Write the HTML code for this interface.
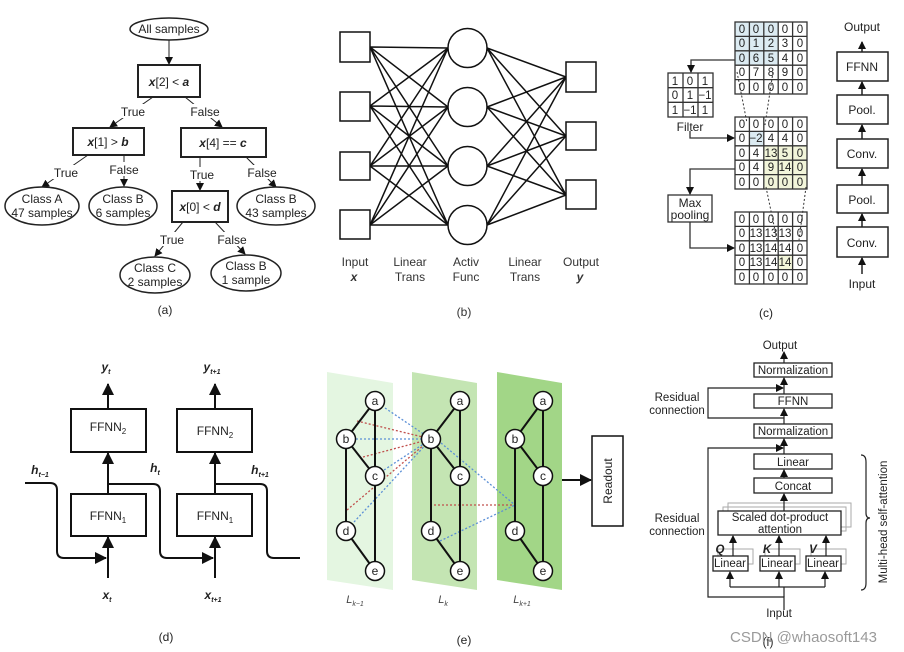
<!DOCTYPE html>
<html><head><meta charset="utf-8"><style>
html,body{margin:0;padding:0;background:#fff;}
svg{display:block;font-family:"Liberation Sans",Arial,sans-serif;}
</style></head><body>
<svg width="904" height="652" viewBox="0 0 904 652" xmlns="http://www.w3.org/2000/svg">
<defs>
<marker id="ah" markerWidth="8" markerHeight="8" refX="7" refY="4" orient="auto" markerUnits="userSpaceOnUse"><path d="M0,0 L8,4 L0,8 z" fill="#111"/></marker>
<marker id="ab" markerWidth="12" markerHeight="12" refX="11" refY="6" orient="auto" markerUnits="userSpaceOnUse"><path d="M0,0 L12,6 L0,12 z" fill="#111"/></marker>
</defs>

<!-- (a) -->
<g stroke="#222" fill="none" stroke-width="1">
<ellipse cx="169" cy="29" rx="39" ry="11" stroke-width="1.5"/>
<line x1="169" y1="40" x2="169" y2="64" marker-end="url(#ah)"/>
<rect x="138" y="65" width="62" height="32" stroke-width="2"/>
<line x1="153" y1="97" x2="110" y2="127" marker-end="url(#ah)"/>
<line x1="185" y1="97" x2="222" y2="127" marker-end="url(#ah)"/>
<rect x="73" y="128" width="71" height="27" stroke-width="2"/>
<rect x="181" y="128" width="85" height="29" stroke-width="2"/>
<line x1="88" y1="155" x2="42" y2="187" marker-end="url(#ah)"/>
<line x1="124" y1="155" x2="124" y2="186" marker-end="url(#ah)"/>
<line x1="200" y1="157" x2="200" y2="190" marker-end="url(#ah)"/>
<line x1="246" y1="157" x2="276" y2="187" marker-end="url(#ah)"/>
<ellipse cx="42" cy="206" rx="37" ry="19" stroke-width="1.5"/>
<ellipse cx="123" cy="206" rx="34" ry="19" stroke-width="1.5"/>
<ellipse cx="276" cy="206" rx="39" ry="19" stroke-width="1.5"/>
<rect x="172" y="191" width="56" height="31" stroke-width="2"/>
<line x1="183" y1="222" x2="155" y2="256" marker-end="url(#ah)"/>
<line x1="215" y1="222" x2="245" y2="254" marker-end="url(#ah)"/>
<ellipse cx="155" cy="275" rx="35" ry="18" stroke-width="1.5"/>
<ellipse cx="246" cy="273" rx="35" ry="18" stroke-width="1.5"/>
</g>
<g font-size="12" fill="#222" text-anchor="middle" stroke="none">
<text x="169" y="33">All samples</text>
<text x="169" y="86"><tspan font-weight="bold" font-style="italic">x</tspan>[2] &lt; <tspan font-weight="bold" font-style="italic">a</tspan></text>
<rect x="118" y="104" width="30" height="14" fill="#fff"/><text x="133" y="116">True</text>
<rect x="188" y="104" width="34" height="14" fill="#fff"/><text x="205" y="116">False</text>
<text x="108" y="146"><tspan font-weight="bold" font-style="italic">x</tspan>[1] &gt; <tspan font-weight="bold" font-style="italic">b</tspan></text>
<text x="223" y="147"><tspan font-weight="bold" font-style="italic">x</tspan>[4] == <tspan font-weight="bold" font-style="italic">c</tspan></text>
<rect x="52" y="165" width="28" height="14" fill="#fff"/><text x="66" y="177">True</text>
<rect x="107" y="162" width="34" height="14" fill="#fff"/><text x="124" y="174">False</text>
<rect x="188" y="167" width="28" height="14" fill="#fff"/><text x="202" y="179">True</text>
<rect x="245" y="165" width="34" height="14" fill="#fff"/><text x="262" y="177">False</text>
<text x="42" y="203">Class A</text><text x="42" y="217">47 samples</text>
<text x="123" y="203">Class B</text><text x="123" y="217">6 samples</text>
<text x="276" y="203">Class B</text><text x="276" y="217">43 samples</text>
<text x="200" y="211"><tspan font-weight="bold" font-style="italic">x</tspan>[0] &lt; <tspan font-weight="bold" font-style="italic">d</tspan></text>
<rect x="158" y="232" width="28" height="14" fill="#fff"/><text x="172" y="244">True</text>
<rect x="215" y="232" width="34" height="14" fill="#fff"/><text x="232" y="244">False</text>
<text x="155" y="272">Class C</text><text x="155" y="286">2 samples</text>
<text x="246" y="270">Class B</text><text x="246" y="284">1 sample</text>
<text x="165" y="314">(a)</text>
</g>

<!-- (b) -->
<g stroke="#111" stroke-width="1.5" fill="none">
<path d="M370,47L448,48M370,47L448,107M370,47L448,166M370,47L448,225
M370,106L448,48M370,106L448,107M370,106L448,166M370,106L448,225
M370,166L448,48M370,166L448,107M370,166L448,166M370,166L448,225
M370,225L448,48M370,225L448,107M370,225L448,166M370,225L448,225
M487,48L566,77M487,48L566,136M487,48L566,195
M487,107L566,77M487,107L566,136M487,107L566,195
M487,166L566,77M487,166L566,136M487,166L566,195
M487,225L566,77M487,225L566,136M487,225L566,195"/>
<rect x="340" y="32" width="30" height="30" fill="#fff"/>
<rect x="340" y="92" width="30" height="29" fill="#fff"/>
<rect x="340" y="152" width="30" height="28" fill="#fff"/>
<rect x="340" y="210" width="30" height="29" fill="#fff"/>
<circle cx="467.5" cy="48" r="19.5" fill="#fff"/>
<circle cx="467.5" cy="107" r="19.5" fill="#fff"/>
<circle cx="467.5" cy="166" r="19.5" fill="#fff"/>
<circle cx="467.5" cy="225" r="19.5" fill="#fff"/>
<rect x="566" y="62" width="30" height="30" fill="#fff"/>
<rect x="566" y="122" width="30" height="28" fill="#fff"/>
<rect x="566" y="180" width="30" height="29" fill="#fff"/>
</g>
<g font-size="12" fill="#333" text-anchor="middle">
<text x="355" y="266">Input</text><text x="354" y="281" font-weight="bold" font-style="italic">x</text>
<text x="410" y="266">Linear</text><text x="410" y="281">Trans</text>
<text x="466" y="266">Activ</text><text x="466" y="281">Func</text>
<text x="525" y="266">Linear</text><text x="525" y="281">Trans</text>
<text x="581" y="266">Output</text><text x="580" y="281" font-weight="bold" font-style="italic">y</text>
<text x="464" y="316">(b)</text>
</g>

<!-- (c) -->
<g>
<rect x="735" y="22" width="43" height="43" fill="#dcebf2"/>
<rect x="749" y="131" width="15" height="15" fill="#dcebf2"/>
<rect x="764" y="146" width="43" height="43" fill="#f2f5da"/>
<rect x="778" y="255" width="15" height="14" fill="#f2f5da"/>
</g>
<g stroke="#333" stroke-width="1.3" fill="none">
<rect x="735" y="22" width="72" height="72"/>
<path d="M749.4,22V94M763.8,22V94M778.2,22V94M792.6,22V94M735,36.4H807M735,50.8H807M735,65.2H807M735,79.6H807"/>
<rect x="735" y="117" width="72" height="72"/>
<path d="M749.4,117V189M763.8,117V189M778.2,117V189M792.6,117V189M735,131.4H807M735,145.8H807M735,160.2H807M735,174.6H807"/>
<rect x="735" y="212" width="72" height="72"/>
<path d="M749.4,212V284M763.8,212V284M778.2,212V284M792.6,212V284M735,226.4H807M735,240.8H807M735,255.2H807M735,269.6H807"/>
<rect x="668" y="73" width="45" height="44"/>
<path d="M683,73V117M698,73V117M668,87.7H713M668,102.3H713"/>
<rect x="668" y="195" width="44" height="27"/>
</g>
<g stroke="#333" stroke-width="1.3" fill="none">
<path d="M735,60H691V72" marker-end="url(#ah)"/>
<path d="M690,131V138H734" marker-end="url(#ah)"/>
<path d="M735,169H690V194" marker-end="url(#ah)"/>
<path d="M690,222V248H734" marker-end="url(#ah)"/>
</g>
<g stroke="#333" stroke-width="1" stroke-dasharray="2,2" fill="none">
<path d="M737,72L747,123M773,72L765,125M766,187L777,240M806,187L799,240"/>
</g>
<g font-size="11.5" fill="#222" text-anchor="middle">
<g id="r1"><text x="742" y="33">0</text><text x="756" y="33">0</text><text x="771" y="33">0</text><text x="785" y="33">0</text><text x="800" y="33">0</text></g>
<text x="742" y="47">0</text><text x="756" y="47">1</text><text x="771" y="47">2</text><text x="785" y="47">3</text><text x="800" y="47">0</text>
<text x="742" y="62">0</text><text x="756" y="62">6</text><text x="771" y="62">5</text><text x="785" y="62">4</text><text x="800" y="62">0</text>
<text x="742" y="76">0</text><text x="756" y="76">7</text><text x="771" y="76">8</text><text x="785" y="76">9</text><text x="800" y="76">0</text>
<text x="742" y="91">0</text><text x="756" y="91">0</text><text x="771" y="91">0</text><text x="785" y="91">0</text><text x="800" y="91">0</text>

<text x="742" y="128">0</text><text x="756" y="128">0</text><text x="771" y="128">0</text><text x="785" y="128">0</text><text x="800" y="128">0</text>
<text x="742" y="142">0</text><text x="756" y="142">−2</text><text x="771" y="142">4</text><text x="785" y="142">4</text><text x="800" y="142">0</text>
<text x="742" y="157">0</text><text x="756" y="157">4</text><text x="771" y="157">13</text><text x="785" y="157">5</text><text x="800" y="157">0</text>
<text x="742" y="171">0</text><text x="756" y="171">4</text><text x="771" y="171">9</text><text x="785" y="171">14</text><text x="800" y="171">0</text>
<text x="742" y="186">0</text><text x="756" y="186">0</text><text x="771" y="186">0</text><text x="785" y="186">0</text><text x="800" y="186">0</text>

<text x="742" y="223">0</text><text x="756" y="223">0</text><text x="771" y="223">0</text><text x="785" y="223">0</text><text x="800" y="223">0</text>
<text x="742" y="237">0</text><text x="756" y="237">13</text><text x="771" y="237">13</text><text x="785" y="237">13</text><text x="800" y="237">0</text>
<text x="742" y="252">0</text><text x="756" y="252">13</text><text x="771" y="252">14</text><text x="785" y="252">14</text><text x="800" y="252">0</text>
<text x="742" y="266">0</text><text x="756" y="266">13</text><text x="771" y="266">14</text><text x="785" y="266">14</text><text x="800" y="266">0</text>
<text x="742" y="281">0</text><text x="756" y="281">0</text><text x="771" y="281">0</text><text x="785" y="281">0</text><text x="800" y="281">0</text>

<text x="675" y="85">1</text><text x="690" y="85">0</text><text x="705" y="85">1</text>
<text x="675" y="99">0</text><text x="690" y="99">1</text><text x="705" y="99">−1</text>
<text x="675" y="114">1</text><text x="690" y="114">−1</text><text x="705" y="114">1</text>
<text x="690" y="131" font-size="12">Filter</text>
<text x="690" y="207" font-size="12">Max</text><text x="690" y="219" font-size="12">pooling</text>
</g>
<g stroke="#222" stroke-width="1.5" fill="none">
<rect x="837" y="52" width="51" height="29"/>
<rect x="837" y="95" width="51" height="29"/>
<rect x="837" y="139" width="51" height="29"/>
<rect x="837" y="185" width="51" height="28"/>
<rect x="837" y="227" width="51" height="30"/>
<line x1="862" y1="52" x2="862" y2="42" marker-end="url(#ah)"/>
<line x1="862" y1="95" x2="862" y2="82" marker-end="url(#ah)"/>
<line x1="862" y1="139" x2="862" y2="125" marker-end="url(#ah)"/>
<line x1="862" y1="185" x2="862" y2="169" marker-end="url(#ah)"/>
<line x1="862" y1="227" x2="862" y2="214" marker-end="url(#ah)"/>
<line x1="862" y1="274" x2="862" y2="258" marker-end="url(#ah)"/>
</g>
<g font-size="12" fill="#222" text-anchor="middle">
<text x="862" y="31">Output</text>
<text x="862" y="71">FFNN</text><text x="862" y="114">Pool.</text><text x="862" y="158">Conv.</text><text x="862" y="204">Pool.</text><text x="862" y="247">Conv.</text>
<text x="862" y="288">Input</text>
<text x="766" y="317">(c)</text>
</g>

<!-- (d) -->
<g stroke="#111" stroke-width="2" fill="none">
<rect x="71" y="409" width="75" height="43"/>
<rect x="71" y="494" width="75" height="42"/>
<rect x="177" y="409" width="75" height="43"/>
<rect x="177" y="494" width="75" height="42"/>
<line x1="108" y1="409" x2="108" y2="384" marker-end="url(#ab)"/>
<line x1="108" y1="494" x2="108" y2="453" marker-end="url(#ab)"/>
<line x1="108" y1="578" x2="108" y2="537" marker-end="url(#ab)"/>
<line x1="215" y1="409" x2="215" y2="384" marker-end="url(#ab)"/>
<line x1="215" y1="494" x2="215" y2="453" marker-end="url(#ab)"/>
<line x1="215" y1="578" x2="215" y2="537" marker-end="url(#ab)"/>
<path d="M25,483H50Q57,483 57,490V551Q57,558 64,558H106" marker-end="url(#ab)"/>
<path d="M108,484H153Q160,484 160,491V551Q160,558 167,558H213" marker-end="url(#ab)"/>
<path d="M215,484H260Q267,484 267,491V551Q267,558 274,558H300"/>
</g>
<g font-size="12" fill="#222" text-anchor="middle">
<text x="108" y="455" dy="-24">FFNN<tspan font-size="8" dy="3">2</tspan></text>
<text x="108" y="520">FFNN<tspan font-size="8" dy="3">1</tspan></text>
<text x="215" y="435">FFNN<tspan font-size="8" dy="3">2</tspan></text>
<text x="215" y="520">FFNN<tspan font-size="8" dy="3">1</tspan></text>
<text x="106" y="371" font-weight="bold" font-style="italic">y<tspan font-size="7" dy="3">t</tspan></text>
<text x="212" y="371" font-weight="bold" font-style="italic">y<tspan font-size="7" dy="3">t+1</tspan></text>
<text x="40" y="474" font-weight="bold" font-style="italic">h<tspan font-size="7" dy="3">t−1</tspan></text>
<text x="155" y="472" font-weight="bold" font-style="italic">h<tspan font-size="7" dy="3">t</tspan></text>
<text x="260" y="474" font-weight="bold" font-style="italic">h<tspan font-size="7" dy="3">t+1</tspan></text>
<text x="107" y="599" font-weight="bold" font-style="italic">x<tspan font-size="7" dy="3">t</tspan></text>
<text x="213" y="599" font-weight="bold" font-style="italic">x<tspan font-size="7" dy="3">t+1</tspan></text>
<text x="166" y="641">(d)</text>
</g>

<!-- (e) -->
<polygon points="327,372 393,383 393,590 327,580" fill="#e4f6e1"/>
<polygon points="412,372 477,383 477,590 412,580" fill="#c4e5b3"/>
<polygon points="497,372 562,383 562,590 497,580" fill="#a2d687"/>
<g stroke-width="1.3" stroke-dasharray="2,2" fill="none">
<path stroke="#c0504d" d="M357,421L431,439M363,457L431,439M347,510L431,439M430,505L515,505"/>
<path stroke="#5b8fd6" d="M385,408L431,439M356,439L431,439M384,470L431,439M354,522L431,439M441,443L515,505M440,541L515,505"/>
</g>
<g stroke="#111" stroke-width="2" fill="none">
<path d="M375,401L346,439M375,401V476M346,439L375,476M346,439V531M375,476V571M346,531L375,571"/>
<path d="M460,401L431,439M460,401V476M431,439L460,476M431,439V531M460,476V571M431,531L460,571"/>
<path d="M543,401L515,439M543,401V476M515,439L543,476M515,439V531M543,476V571M515,531L543,571"/>
</g>
<g stroke="#111" stroke-width="1.5" fill="#fff">
<circle cx="375" cy="401" r="9.5"/><circle cx="346" cy="439" r="9.5"/><circle cx="375" cy="476" r="9.5"/><circle cx="346" cy="531" r="9.5"/><circle cx="375" cy="571" r="9.5"/>
<circle cx="460" cy="401" r="9.5"/><circle cx="431" cy="439" r="9.5"/><circle cx="460" cy="476" r="9.5"/><circle cx="431" cy="531" r="9.5"/><circle cx="460" cy="571" r="9.5"/>
<circle cx="543" cy="401" r="9.5"/><circle cx="515" cy="439" r="9.5"/><circle cx="543" cy="476" r="9.5"/><circle cx="515" cy="531" r="9.5"/><circle cx="543" cy="571" r="9.5"/>
</g>
<g font-size="12" fill="#222" text-anchor="middle">
<text x="375" y="405">a</text><text x="346" y="443">b</text><text x="375" y="480">c</text><text x="346" y="535">d</text><text x="375" y="575">e</text>
<text x="460" y="405">a</text><text x="431" y="443">b</text><text x="460" y="480">c</text><text x="431" y="535">d</text><text x="460" y="575">e</text>
<text x="543" y="405">a</text><text x="515" y="443">b</text><text x="543" y="480">c</text><text x="515" y="535">d</text><text x="543" y="575">e</text>
</g>
<line x1="562" y1="480" x2="591" y2="480" stroke="#111" stroke-width="2" marker-end="url(#ab)"/>
<rect x="592" y="436" width="31" height="90" fill="#fff" stroke="#111" stroke-width="1.5"/>
<text x="0" y="0" font-size="12" fill="#222" text-anchor="middle" transform="translate(612,481) rotate(-90)">Readout</text>
<g font-size="11" fill="#444" text-anchor="middle" font-style="italic">
<text x="355" y="603">L<tspan font-size="7" dy="3">k−1</tspan></text>
<text x="443" y="603">L<tspan font-size="7" dy="3">k</tspan></text>
<text x="522" y="603">L<tspan font-size="7" dy="3">k+1</tspan></text>
</g>
<text x="464" y="644" font-size="12" fill="#222" text-anchor="middle">(e)</text>

<!-- (f) -->
<g stroke="#aaa" stroke-width="1" fill="none">
<rect x="728" y="503" width="123" height="24"/>
<rect x="723" y="507" width="123" height="24"/>
<rect x="718" y="549" width="35" height="15"/>
<rect x="765" y="549" width="35" height="15"/>
<rect x="811" y="549" width="35" height="15"/>
</g>
<g stroke="#222" stroke-width="1.3" fill="#fff">
<rect x="754" y="363" width="78" height="14"/>
<rect x="754" y="394" width="78" height="14"/>
<rect x="754" y="424" width="78" height="14"/>
<rect x="754" y="454" width="78" height="15"/>
<rect x="754" y="478" width="78" height="15"/>
<rect x="718" y="511" width="123" height="24"/>
<rect x="713" y="556" width="35" height="15"/>
<rect x="760" y="556" width="35" height="15"/>
<rect x="806" y="556" width="35" height="15"/>
</g>
<g stroke="#222" stroke-width="1.2" fill="none">
<line x1="784" y1="363" x2="784" y2="352" marker-end="url(#ah)"/>
<line x1="784" y1="394" x2="784" y2="378" marker-end="url(#ah)"/>
<line x1="784" y1="424" x2="784" y2="409" marker-end="url(#ah)"/>
<line x1="784" y1="454" x2="784" y2="439" marker-end="url(#ah)"/>
<line x1="784" y1="478" x2="784" y2="470" marker-end="url(#ah)"/>
<line x1="784" y1="511" x2="784" y2="494" marker-end="url(#ah)"/>
<path d="M784,418H708V388H783" marker-end="url(#ah)"/>
<path d="M784,610V597H708V448H783" marker-end="url(#ah)"/>
<path d="M784,597V587M730,587H825"/>
<line x1="730" y1="587" x2="730" y2="572" marker-end="url(#ah)"/>
<line x1="779" y1="587" x2="779" y2="572" marker-end="url(#ah)"/>
<line x1="825" y1="587" x2="825" y2="572" marker-end="url(#ah)"/>
<line x1="733" y1="556" x2="733" y2="536" marker-end="url(#ah)"/>
<line x1="779" y1="556" x2="779" y2="536" marker-end="url(#ah)"/>
<line x1="826" y1="556" x2="826" y2="536" marker-end="url(#ah)"/>
<path d="M861,455Q866,455 866,462V513Q866,518 870,518Q866,518 866,523V583Q866,590 861,590"/>
</g>
<g font-size="11.5" fill="#222" text-anchor="middle">
<text x="780" y="349">Output</text>
<text x="793" y="374">Normalization</text>
<text x="793" y="405">FFNN</text>
<text x="793" y="435">Normalization</text>
<text x="793" y="466">Linear</text>
<text x="793" y="490">Concat</text>
<text x="780" y="521">Scaled dot-product</text>
<text x="780" y="533">attention</text>
<text x="730" y="567">Linear</text><text x="777" y="567">Linear</text><text x="823" y="567">Linear</text>
<text x="720" y="553" font-weight="bold" font-style="italic">Q</text>
<text x="767" y="553" font-weight="bold" font-style="italic">K</text>
<text x="813" y="553" font-weight="bold" font-style="italic">V</text>
<text x="677" y="401">Residual</text><text x="677" y="414">connection</text>
<text x="677" y="522">Residual</text><text x="677" y="535">connection</text>
<text x="779" y="617">Input</text>
<text x="0" y="0" transform="translate(887,522) rotate(-90)">Multi-head self-attention</text>
<text x="768" y="646">(f)</text>
</g>
<text x="730" y="642" font-size="15" fill="#9a9a9a">CSDN @whaosoft143</text>
</svg>
</body></html>
